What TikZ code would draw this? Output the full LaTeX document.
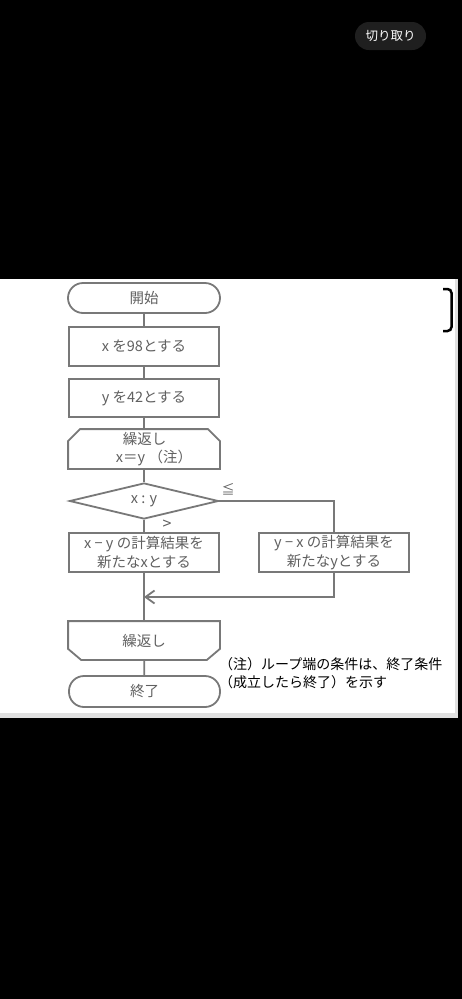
\documentclass[tikz,border=0pt]{standalone}
\usepackage{fontspec}
\setmainfont{Noto Sans CJK JP}
\usetikzlibrary{shapes.geometric,calc,arrows.meta}
\definecolor{fl}{HTML}{787878}
\definecolor{ft}{HTML}{606060}
\tikzset{
  base/.style={draw=fl, line width=1.8pt, text=ft, inner sep=0pt, font=\fontsize{14.5}{18.5}\selectfont, align=center},
  term/.style={base, rounded corners=15pt, minimum width=152pt, minimum height=30pt},
  proc/.style={base, rectangle, minimum width=150pt, minimum height=39pt},
  loopbox/.style={base, draw=none, rectangle, minimum width=150pt, minimum height=38pt},
  dec/.style={base, diamond, aspect=4.14, minimum width=149pt, minimum height=36pt},
  conn/.style={draw=fl, line width=1.8pt, line join=miter},
  lbl/.style={text=ft, font=\fontsize{14.5}{16}\selectfont, inner sep=0pt},
  note/.style={text=black, font=\fontsize{14}{16}\selectfont, inner sep=0pt, anchor=west},
}
\begin{document}
\begin{tikzpicture}[x=1pt,y=-1pt]
\useasboundingbox (0,0) rectangle (462,999);
\fill[black] (0,0) rectangle (462,999);
\fill[white] (0,279) rectangle (456,713);
\fill[black!12] (0,713) rectangle (458,718);
\fill[black!12] (455,279) rectangle (458,718);
% top button
\node[fill=black!88, rounded corners=14pt, minimum width=71pt, minimum height=28pt, inner sep=0pt, text=white, font=\fontsize{12.5}{14}\selectfont] (btn) at (390.5,36) {切り取り};
% bracket
\draw[black, line width=2.5pt, rounded corners=4pt] (443,289) -- (451.5,289) -- (451.5,331) -- (443,331);
% flowchart
\node[term] (start) at (144,298) {開始};
\node[proc] (b1) at (144,346.5) {x を98とする};
\node[proc, minimum height=38pt] (b2) at (144,398) {y を42とする};
\node[loopbox] (l1) at (144,449) {};
\draw[conn] ($(l1.north west)+(12,0)$) -- ($(l1.north east)+(-12,0)$) -- ($(l1.north east)+(0,12)$) -- (l1.south east) -- (l1.south west) -- ($(l1.north west)+(0,12)$) -- cycle;
\node[lbl] (l1a) at (144.5,439) {繰返し};
\node[lbl] (l1b) at (154,458) {x＝y （注）};
\node[dec] (d) at (144,501) {x : y};
\node[proc] (bl) at (144,552.5) {x − y の計算結果を\\新たなxとする};
\node[proc] (br) at (334,552.5) {y − x の計算結果を\\新たなyとする};
\node[loopbox, minimum height=37pt] (l2) at (144,640.5) {繰返し};
\draw[conn] (l2.north west) -- (l2.north east) -- ($(l2.south east)+(0,-11)$) -- ($(l2.south east)+(-13,0)$) -- ($(l2.south west)+(13,0)$) -- ($(l2.south west)+(0,-11)$) -- cycle;
\node[term, minimum height=31pt, minimum width=151pt] (end) at (144.5,691.5) {終了};
\coordinate (m) at (144,597);
\coordinate (c1) at (334,597);
\coordinate (c2) at (334,501);
% connectors
\draw[conn] (start) -- (b1);
\draw[conn] (b1) -- (b2);
\draw[conn] (b2) -- (l1);
\draw[conn] (l1) -- (d);
\draw[conn] (d.south) -- (bl.north);
\draw[conn] (d.east) -- (c2) -- (br.north);
\draw[conn] (bl.south) -- (l2.north);
\draw[conn, -{Straight Barb[length=9pt,width=13pt,line width=1.8pt]}] (br.south) -- (c1) -- (m);
\draw[conn] (l2) -- (end);
% branch labels
\node[lbl, font=\fontsize{13}{14}\selectfont] (le) at (228,489) {≦};
\node[lbl, font=\fontsize{16}{17}\selectfont] (gt) at (167,525) {>};
% note
\node[note] (n1) at (219,664) {（注）ループ端の条件は、終了条件};
\node[note] (n2) at (219,682) {（成立したら終了）を示す};
\end{tikzpicture}
\end{document}
